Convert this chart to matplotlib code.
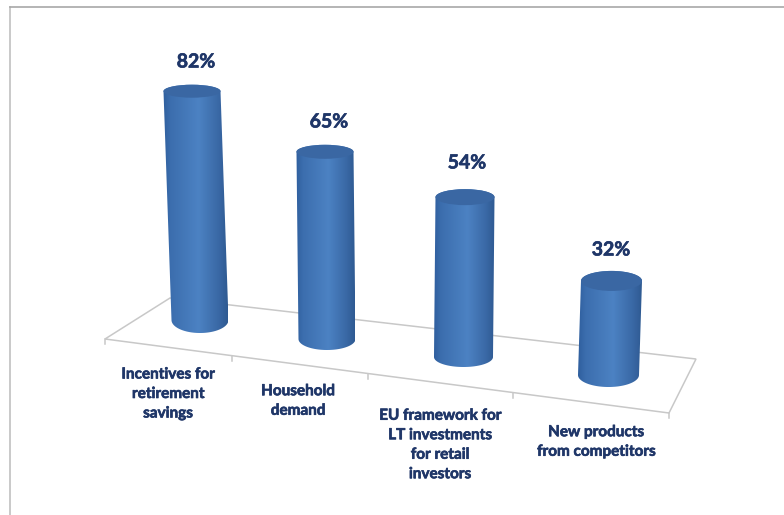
import numpy as np
import matplotlib
matplotlib.use("Agg")
import matplotlib.pyplot as plt
import matplotlib.patheffects as pe
from matplotlib.colors import LinearSegmentedColormap
from matplotlib.path import Path
from matplotlib.patches import PathPatch, Ellipse, Polygon

# Survey results
categories = [
    "Incentives for\nretirement\nsavings",
    "Household\ndemand",
    "EU framework for\nLT investments\nfor retail\ninvestors",
    "New products\nfrom competitors",
]
values = [82, 65, 54, 32]

# Oblique projection of the floor and columns, in figure pixels
base_x = [200, 327, 463.5, 608.5]
base_y = [320, 339, 357, 375]
px_per_percent = [2.79, 2.88, 2.96, 2.94]
lean_x = [-8, -2, 1.5, 3]
half_width = [28.5, 28.5, 29.5, 30.5]
top_minor = [6.5, 7, 8, 10]
base_minor = [13, 11, 10, 12]
value_label_pos = [(196, 62), (329, 122), (467, 163), (611, 250)]
category_label_pos = [(168, 394), (298, 401), (440, 445), (596, 442)]
floor_corners = [(105, 339), (170, 298), (696, 359), (669, 413)]
tick_x = [105, 232, 368, 513, 669]

NAVY = "#1f3668"
GRID = "#c8c8c8"
FONT = "Lato"

side_cmap = LinearSegmentedColormap.from_list(
    "column_side",
    [(0.0, "#2f5f9e"), (0.12, "#3c6eae"), (0.55, "#4c82c3"),
     (0.85, "#3a69a6"), (1.0, "#2f5a92")],
)

fig = plt.figure(figsize=(7.84, 5.15), dpi=100, facecolor="white")
ax = fig.add_axes([0, 0, 1, 1])
ax.set_xlim(0, 784)
ax.set_ylim(515, 0)
ax.axis("off")

# Slide frame along the top and left edges
ax.plot([10, 10], [515, 6.5], color="#c0c0c0", lw=1.2, zorder=1)
ax.plot([10, 784], [6.5, 6.5], color="#a8a8a8", lw=1.2, zorder=1)

# Floor outline and ticks on its front edge
ax.add_patch(Polygon(floor_corners, closed=True, fill=False, edgecolor=GRID,
                     lw=1.1, zorder=2))
fx0, fy0 = floor_corners[0]
fx1, fy1 = floor_corners[3]
for tx in tick_x:
    ty = fy0 + (fy1 - fy0) * (tx - fx0) / (fx1 - fx0)
    ax.plot([tx, tx], [ty, ty + 5], color=GRID, lw=1.1, zorder=2)


def arc(cx, cy, a, b, t0, t1, n=60):
    t = np.linspace(t0, t1, n)
    return np.column_stack([cx + a * np.cos(t), cy + b * np.sin(t)])


# A thin stroke gives the labels their heavier weight
heavy = [pe.withStroke(linewidth=0.45, foreground=NAVY)]

for i, v in enumerate(values):
    bx, by = base_x[i], base_y[i]
    tx = bx + lean_x[i]
    ty = by - px_per_percent[i] * v
    a = half_width[i]

    # Silhouette: back of the top ellipse, then down to the front of the base
    top_back = arc(tx, ty, a, top_minor[i], np.pi, 2 * np.pi)
    base_front = arc(bx, by, a, base_minor[i], 0, np.pi)
    outline = np.vstack([top_back, base_front, top_back[:1]])
    clip = PathPatch(Path(outline), transform=ax.transData, fc="none", ec="none")
    ax.add_patch(clip)

    left = min(tx, bx) - a
    right = max(tx, bx) + a
    shade = ax.imshow(
        np.linspace(0, 1, 256)[None, :], cmap=side_cmap, aspect="auto",
        extent=(left, right, by + base_minor[i], ty - top_minor[i]), zorder=3,
    )
    shade.set_clip_path(clip)

    ax.add_patch(Ellipse((tx, ty), 2 * a, 2 * top_minor[i], fc="#3a67a3",
                         ec="none", zorder=4))

    ax.text(*value_label_pos[i], f"{v}%", color=NAVY, fontsize=14,
            fontweight="bold", family=FONT, ha="center", va="center", zorder=5,
            path_effects=heavy)
    ax.text(*category_label_pos[i], categories[i], color=NAVY, fontsize=11,
            fontweight="bold", family=FONT, ha="center", va="center",
            linespacing=1.5, zorder=5, path_effects=heavy)

ax.set_xlim(0, 784)
ax.set_ylim(515, 0)
fig.savefig("out.png", dpi=100)
